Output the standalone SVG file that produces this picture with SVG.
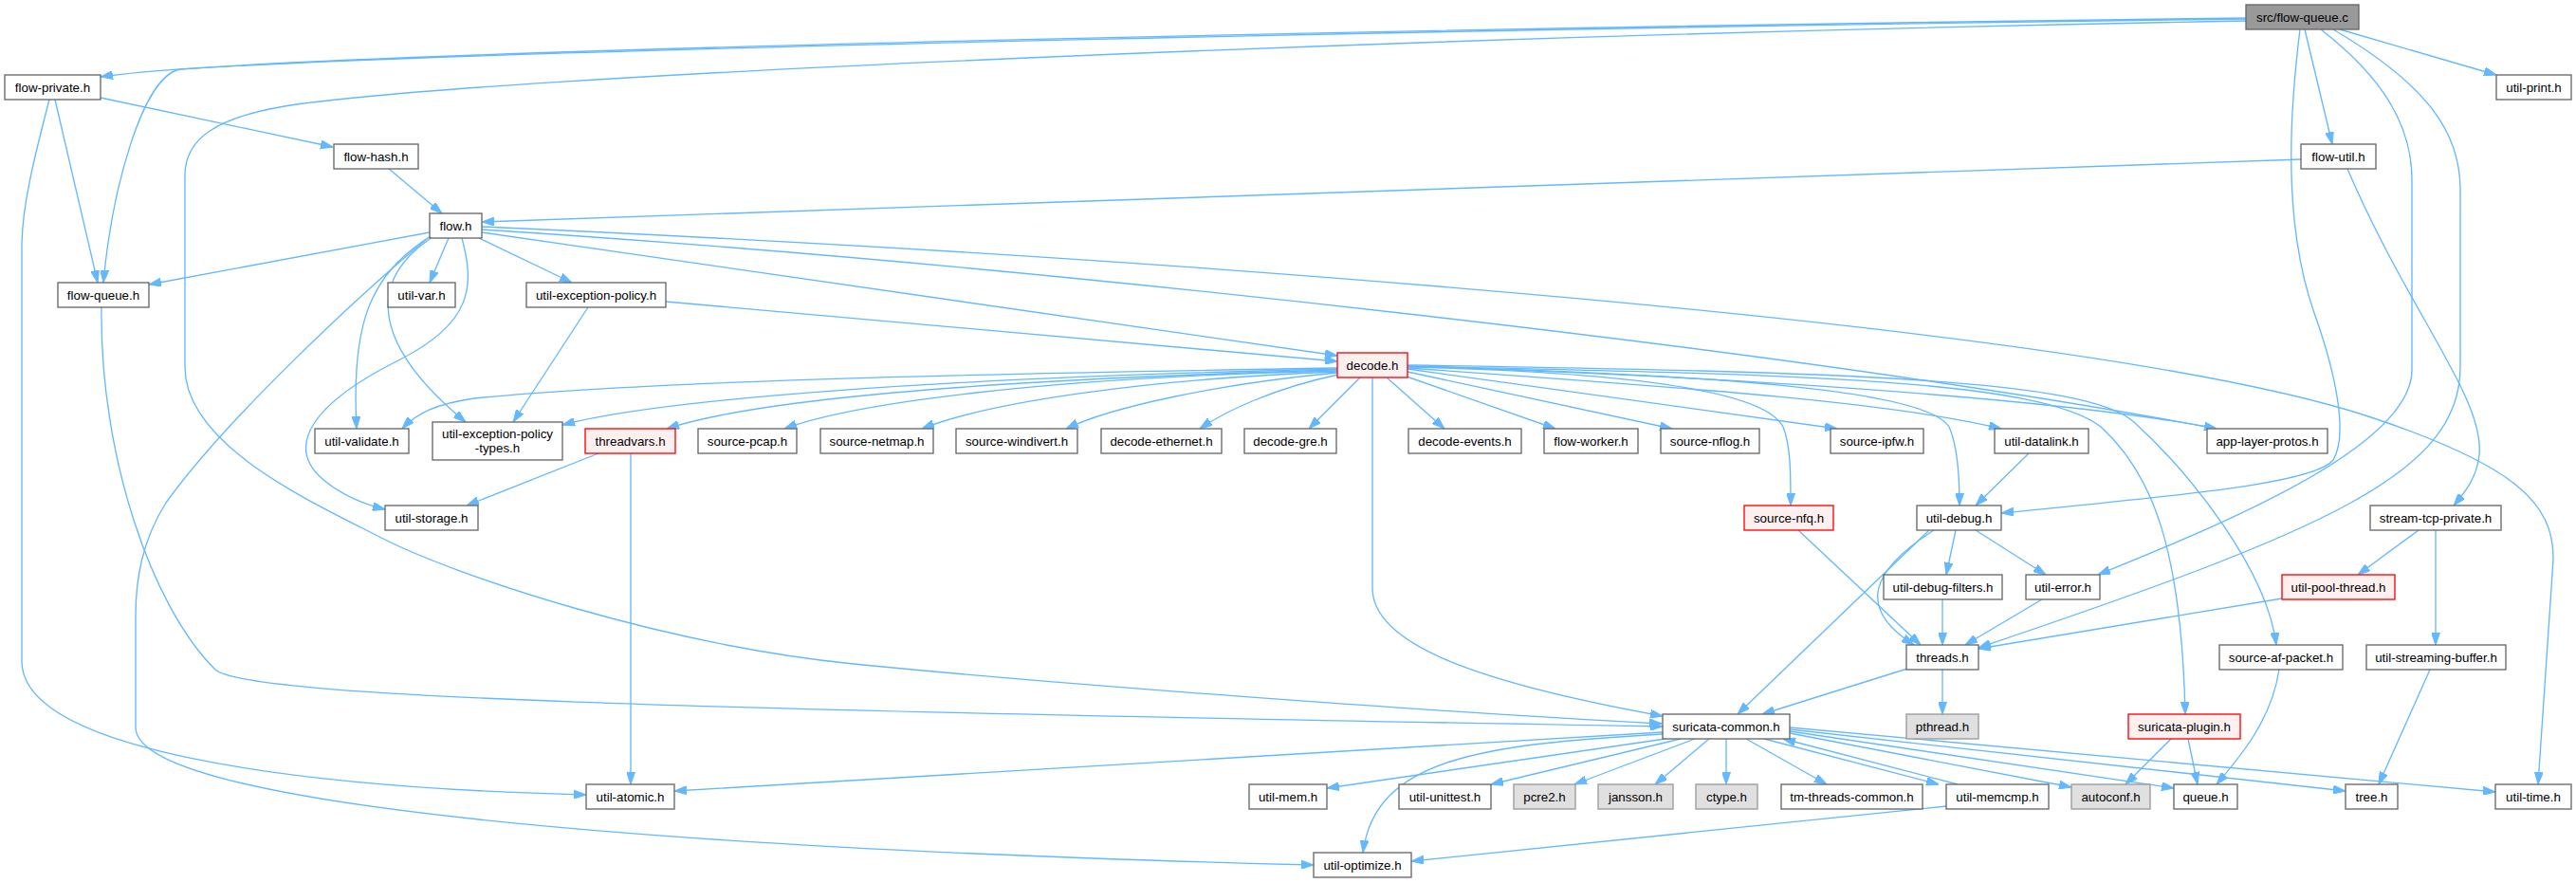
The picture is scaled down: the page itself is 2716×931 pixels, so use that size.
<svg xmlns="http://www.w3.org/2000/svg" width="2716" height="931" viewBox="0 0 2716 931">
<defs>
<marker id="arr" viewBox="0 0 13 9" refX="13" refY="4.5" markerWidth="13" markerHeight="9" markerUnits="userSpaceOnUse" orient="auto" preserveAspectRatio="none">
<path d="M0,0 L13,4.5 L0,9 z" fill="#63b8ff" stroke="#63b8ff" stroke-width="1"/>
</marker>
<style>
.node rect{fill:#ffffff;stroke:#666666;stroke-width:1.33}
.node.red rect{fill:#fff0f0;stroke:#ff0000}
.node.grey rect{fill:#e0e0e0;stroke:#999999}
.node.main rect{fill:#999999;stroke:#666666}
.node text{font-family:"Liberation Sans",Arial,Helvetica,sans-serif;font-size:13.33px;fill:#000000;text-anchor:middle}
.edges path{fill:none;stroke:#63b8ff;stroke-width:1.33;marker-end:url(#arr)}
</style>
</defs>
<rect x="0" y="0" width="2716" height="931" fill="#ffffff"/>
<g id="edges" class="edges">
<path d="M2368,19 C1700,27 300,52 106,81"/>
<path d="M2368,20 C1700,28 500,52 190,73 C150,80 118,200 109,298"/>
<path d="M2368,22 C1500,38 500,80 300,112 C230,124 195,145 195,185 L195,387 C195,470 330,530 402,567 C480,607 700,680 900,700 C1100,720 1500,750 1752,763"/>
<path d="M106,103 L351,155"/>
<path d="M58,105 L103,298"/>
<path d="M52,105 C35,170 23,220 23,260 L23,697 C23,790 300,830 618,838"/>
<path d="M410,178 L466,225"/>
<path d="M2426,168 L508,234"/>
<path d="M2475,178 C2540,330 2620,420 2614,480 C2611,505 2598,520 2587,533"/>
<path d="M2467,31 L2632,79"/>
<path d="M2430,31 L2459,152"/>
<path d="M2425,31 C2410,150 2412,250 2440,330 C2465,400 2475,460 2460,485 C2440,510 2300,522 2110,541"/>
<path d="M2447,31 C2510,80 2543,130 2543,190 L2543,390 C2543,470 2350,550 2212,606"/>
<path d="M2460,31 C2560,90 2594,140 2594,200 L2594,387 C2594,500 2450,560 2086,683"/>
<path d="M453,245 L157,300"/>
<path d="M473,251 L453,298"/>
<path d="M505,251 L603,298"/>
<path d="M454,249 C390,290 370,340 376,452"/>
<path d="M456,250 C380,300 400,370 491,445"/>
<path d="M487,251 C500,300 500,340 420,380 C330,425 300,470 340,505 C360,522 385,532 406,537"/>
<path d="M451,251 C380,310 240,440 175,530 C150,570 143,610 143,650 L143,767 C143,850 700,895 1385,912"/>
<path d="M508,245 L1410,375"/>
<path d="M508,242 C1100,280 1900,370 2337,452"/>
<path d="M508,239 C1200,270 2200,340 2500,440 C2650,490 2693,530 2692,590 L2676,827"/>
<path d="M620,324 L541,445"/>
<path d="M702,318 L1410,381"/>
<path d="M631,478 L492,533"/>
<path d="M665,478 L665,827"/>
<path d="M107,324 C105,480 160,640 227,706 C260,735 700,748 1753,766"/>
<path d="M1447,398 L1447,620 C1447,680 1560,720 1753,755"/>
<path d="M1410,388 C1100,393 700,400 500,420 C460,426 440,435 424,452"/>
<path d="M1410,389 C1000,398 700,420 593,448"/>
<path d="M1410,390 C1050,400 800,420 703,452"/>
<path d="M1410,391 C1100,398 900,425 827,452"/>
<path d="M1410,392 C1200,400 1040,425 972,452"/>
<path d="M1410,393 C1280,405 1170,430 1124,452"/>
<path d="M1411,395 C1340,410 1290,435 1265,452"/>
<path d="M1434,398 L1380,452"/>
<path d="M1462,398 L1523,452"/>
<path d="M1483,397 L1640,452"/>
<path d="M1484,392 L1763,452"/>
<path d="M1484,389 L1937,452"/>
<path d="M1484,388 C1800,410 2000,425 2110,452"/>
<path d="M1484,386 C1900,400 2200,425 2337,452"/>
<path d="M1484,387 C1700,392 1860,410 1880,450 C1888,470 1888,500 1888,533"/>
<path d="M1484,386 C1800,395 2030,410 2055,450 C2064,470 2066,500 2066,533"/>
<path d="M1484,386 C1900,395 2150,400 2215,450 C2270,500 2300,580 2304,753"/>
<path d="M1484,385 C1950,392 2200,400 2250,445 C2310,500 2390,600 2400,680"/>
<path d="M2062,559 L2052,606"/>
<path d="M2083,559 L2157,606"/>
<path d="M2039,559 C1975,600 1955,640 2018,680"/>
<path d="M2034,559 L1832,753"/>
<path d="M1896,559 L2025,680"/>
<path d="M2048,632 L2048,680"/>
<path d="M2153,632 L2072,680"/>
<path d="M2406,631 L2086,684"/>
<path d="M2139,478 L2083,533"/>
<path d="M2550,559 L2486,606"/>
<path d="M2568,559 L2568,680"/>
<path d="M2562,706 L2508,827"/>
<path d="M2011,705 L1858,753"/>
<path d="M2048,706 L2048,753"/>
<path d="M2289,779 L2241,827"/>
<path d="M2307,779 L2317,827"/>
<path d="M2403,706 C2395,760 2360,800 2337,827"/>
<path d="M1753,772 L711,834"/>
<path d="M1753,774 C1560,785 1450,800 1437,899"/>
<path d="M1756,779 L1399,831"/>
<path d="M1772,779 L1572,827"/>
<path d="M1787,779 L1660,827"/>
<path d="M1802,779 L1745,827"/>
<path d="M1820,779 L1820,827"/>
<path d="M1841,779 L1926,827"/>
<path d="M1860,779 L2044,827"/>
<path d="M2064,827 L1880,779"/>
<path d="M1887,773 L2184,830"/>
<path d="M1887,771 L2292,831"/>
<path d="M1887,769 L2473,834"/>
<path d="M1887,767 L2631,835"/>
<path d="M2052,850 L1488,908"/>
</g>
<g id="n-main" class="node main"><rect x="2368" y="5" width="119" height="26"/><text x="2427.5" y="22.5">src/flow-queue.c</text></g>
<g id="n-flow-private" class="node"><rect x="5" y="79" width="101" height="26"/><text x="55.5" y="96.5">flow-private.h</text></g>
<g id="n-util-print" class="node"><rect x="2632" y="79" width="79" height="26"/><text x="2671.5" y="96.5">util-print.h</text></g>
<g id="n-flow-hash" class="node"><rect x="352" y="152" width="89" height="26"/><text x="396.5" y="169.5">flow-hash.h</text></g>
<g id="n-flow-util" class="node"><rect x="2426" y="152" width="79" height="26"/><text x="2465.5" y="169.5">flow-util.h</text></g>
<g id="n-flow" class="node"><rect x="453" y="225" width="55" height="26"/><text x="480.5" y="242.5">flow.h</text></g>
<g id="n-flow-queue" class="node"><rect x="61" y="298" width="96" height="26"/><text x="109" y="315.5">flow-queue.h</text></g>
<g id="n-util-var" class="node"><rect x="409" y="298" width="71" height="26"/><text x="444.5" y="315.5">util-var.h</text></g>
<g id="n-util-exception-policy" class="node"><rect x="555" y="298" width="147" height="26"/><text x="628.5" y="315.5">util-exception-policy.h</text></g>
<g id="n-decode" class="node red"><rect x="1410" y="372" width="74" height="26"/><text x="1447" y="389.5">decode.h</text></g>
<g id="n-util-validate" class="node"><rect x="332" y="452" width="99" height="26"/><text x="381.5" y="469.5">util-validate.h</text></g>
<g id="n-uep-types" class="node"><rect x="456" y="445" width="137" height="40"/><text x="524.5" y="461.5">util-exception-policy</text><text x="524.5" y="476.5">-types.h</text></g>
<g id="n-threadvars" class="node red"><rect x="617" y="452" width="95" height="26"/><text x="664.5" y="469.5">threadvars.h</text></g>
<g id="n-source-pcap" class="node"><rect x="736" y="452" width="104" height="26"/><text x="788" y="469.5">source-pcap.h</text></g>
<g id="n-source-netmap" class="node"><rect x="865" y="452" width="119" height="26"/><text x="924.5" y="469.5">source-netmap.h</text></g>
<g id="n-source-windivert" class="node"><rect x="1008" y="452" width="128" height="26"/><text x="1072" y="469.5">source-windivert.h</text></g>
<g id="n-decode-ethernet" class="node"><rect x="1161" y="452" width="127" height="26"/><text x="1224.5" y="469.5">decode-ethernet.h</text></g>
<g id="n-decode-gre" class="node"><rect x="1312" y="452" width="97" height="26"/><text x="1360.5" y="469.5">decode-gre.h</text></g>
<g id="n-decode-events" class="node"><rect x="1485" y="452" width="119" height="26"/><text x="1544.5" y="469.5">decode-events.h</text></g>
<g id="n-flow-worker" class="node"><rect x="1628" y="452" width="99" height="26"/><text x="1677.5" y="469.5">flow-worker.h</text></g>
<g id="n-source-nflog" class="node"><rect x="1751" y="452" width="104" height="26"/><text x="1803" y="469.5">source-nflog.h</text></g>
<g id="n-source-ipfw" class="node"><rect x="1930" y="452" width="98" height="26"/><text x="1979" y="469.5">source-ipfw.h</text></g>
<g id="n-util-datalink" class="node"><rect x="2103" y="452" width="99" height="26"/><text x="2152.5" y="469.5">util-datalink.h</text></g>
<g id="n-app-layer-protos" class="node"><rect x="2327" y="452" width="127" height="26"/><text x="2390.5" y="469.5">app-layer-protos.h</text></g>
<g id="n-util-storage" class="node"><rect x="406" y="533" width="98" height="26"/><text x="455" y="550.5">util-storage.h</text></g>
<g id="n-source-nfq" class="node red"><rect x="1839" y="533" width="94" height="26"/><text x="1886" y="550.5">source-nfq.h</text></g>
<g id="n-util-debug" class="node"><rect x="2021" y="533" width="89" height="26"/><text x="2065.5" y="550.5">util-debug.h</text></g>
<g id="n-stream-tcp-private" class="node"><rect x="2499" y="533" width="138" height="26"/><text x="2568" y="550.5">stream-tcp-private.h</text></g>
<g id="n-util-debug-filters" class="node"><rect x="1986" y="606" width="125" height="26"/><text x="2048.5" y="623.5">util-debug-filters.h</text></g>
<g id="n-util-error" class="node"><rect x="2136" y="606" width="78" height="26"/><text x="2175" y="623.5">util-error.h</text></g>
<g id="n-util-pool-thread" class="node red"><rect x="2406" y="606" width="119" height="26"/><text x="2465.5" y="623.5">util-pool-thread.h</text></g>
<g id="n-threads" class="node"><rect x="2010" y="680" width="76" height="26"/><text x="2048" y="697.5">threads.h</text></g>
<g id="n-source-af-packet" class="node"><rect x="2340" y="680" width="130" height="26"/><text x="2405" y="697.5">source-af-packet.h</text></g>
<g id="n-util-streaming-buffer" class="node"><rect x="2495" y="680" width="147" height="26"/><text x="2568.5" y="697.5">util-streaming-buffer.h</text></g>
<g id="n-suricata-common" class="node"><rect x="1753" y="753" width="134" height="26"/><text x="1820" y="770.5">suricata-common.h</text></g>
<g id="n-pthread" class="node grey"><rect x="2010" y="753" width="76" height="26"/><text x="2048" y="770.5">pthread.h</text></g>
<g id="n-suricata-plugin" class="node red"><rect x="2244" y="753" width="118" height="26"/><text x="2303" y="770.5">suricata-plugin.h</text></g>
<g id="n-util-atomic" class="node"><rect x="618" y="827" width="93" height="26"/><text x="664.5" y="844.5">util-atomic.h</text></g>
<g id="n-util-mem" class="node"><rect x="1317" y="827" width="82" height="26"/><text x="1358" y="844.5">util-mem.h</text></g>
<g id="n-util-unittest" class="node"><rect x="1475" y="827" width="97" height="26"/><text x="1523.5" y="844.5">util-unittest.h</text></g>
<g id="n-pcre2" class="node grey"><rect x="1596" y="827" width="65" height="26"/><text x="1628.5" y="844.5">pcre2.h</text></g>
<g id="n-jansson" class="node grey"><rect x="1685" y="827" width="79" height="26"/><text x="1724.5" y="844.5">jansson.h</text></g>
<g id="n-ctype" class="node grey"><rect x="1788" y="827" width="65" height="26"/><text x="1820.5" y="844.5">ctype.h</text></g>
<g id="n-tm-threads-common" class="node"><rect x="1878" y="827" width="149" height="26"/><text x="1952.5" y="844.5">tm-threads-common.h</text></g>
<g id="n-util-memcmp" class="node"><rect x="2052" y="827" width="108" height="26"/><text x="2106" y="844.5">util-memcmp.h</text></g>
<g id="n-autoconf" class="node grey"><rect x="2184" y="827" width="83" height="26"/><text x="2225.5" y="844.5">autoconf.h</text></g>
<g id="n-queue" class="node"><rect x="2292" y="827" width="67" height="26"/><text x="2325.5" y="844.5">queue.h</text></g>
<g id="n-tree" class="node"><rect x="2473" y="827" width="55" height="26"/><text x="2500.5" y="844.5">tree.h</text></g>
<g id="n-util-time" class="node"><rect x="2631" y="827" width="80" height="26"/><text x="2671" y="844.5">util-time.h</text></g>
<g id="n-util-optimize" class="node"><rect x="1385" y="899" width="103" height="26"/><text x="1436.5" y="916.5">util-optimize.h</text></g>
</svg>
